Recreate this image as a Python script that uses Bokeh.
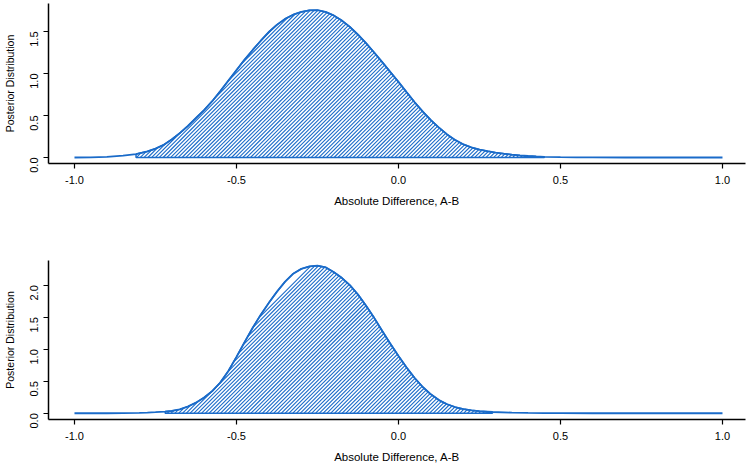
import numpy as np
from bokeh.plotting import figure
from bokeh.layouts import column
from bokeh.models import FixedTicker, NumeralTickFormatter, Range1d
from bokeh.embed import file_html
from bokeh.resources import INLINE

# ---- data ----
x_ticks = [-1.0, -0.5, 0.0, 0.5, 1.0]
y_ticks_top = [0.0, 0.5, 1.0, 1.5]
y_ticks_bottom = [0.0, 0.5, 1.0, 1.5, 2.0]

top_x = [-1.000, -0.950, -0.900, -0.850, -0.810, -0.800, -0.775, -0.750, -0.725, -0.700,
         -0.675, -0.650, -0.625, -0.600, -0.575, -0.550, -0.525, -0.500, -0.475, -0.450,
         -0.425, -0.400, -0.375, -0.350, -0.325, -0.300, -0.275, -0.250, -0.225, -0.200,
         -0.175, -0.150, -0.125, -0.100, -0.075, -0.050, -0.025, 0.000, 0.025, 0.050,
         0.075, 0.100, 0.125, 0.150, 0.175, 0.200, 0.225, 0.250, 0.275, 0.300,
         0.325, 0.350, 0.375, 0.400, 0.425, 0.450, 0.500, 0.550, 0.600, 0.700,
         0.800, 0.900, 1.000]
top_y = [0.000, 0.002, 0.008, 0.022, 0.040, 0.050, 0.072, 0.105, 0.150, 0.215,
         0.290, 0.375, 0.470, 0.565, 0.670, 0.790, 0.915, 1.040, 1.165, 1.280,
         1.390, 1.495, 1.580, 1.650, 1.700, 1.733, 1.752, 1.754, 1.733, 1.691,
         1.631, 1.555, 1.463, 1.361, 1.250, 1.135, 1.017, 0.900, 0.778, 0.658,
         0.547, 0.445, 0.355, 0.275, 0.208, 0.157, 0.120, 0.095, 0.075, 0.058,
         0.045, 0.034, 0.025, 0.018, 0.012, 0.008, 0.004, 0.002, 0.001, 0.000,
         0.000, 0.000, 0.000]
top_lo, top_hi = -0.810, 0.450

bot_x = [-1.000, -0.900, -0.850, -0.800, -0.775, -0.750, -0.720, -0.700, -0.675, -0.650,
         -0.625, -0.600, -0.575, -0.550, -0.525, -0.500, -0.475, -0.450, -0.425, -0.400,
         -0.375, -0.350, -0.325, -0.300, -0.275, -0.250, -0.225, -0.200, -0.175, -0.150,
         -0.125, -0.100, -0.075, -0.050, -0.025, 0.000, 0.025, 0.050, 0.075, 0.100,
         0.125, 0.150, 0.175, 0.200, 0.225, 0.250, 0.275, 0.290, 0.350, 0.400,
         0.450, 0.500, 0.600, 0.700, 0.800, 0.900, 1.000]
bot_y = [0.000, 0.000, 0.002, 0.006, 0.010, 0.016, 0.026, 0.035, 0.060, 0.105,
         0.165, 0.245, 0.345, 0.480, 0.660, 0.880, 1.110, 1.335, 1.540, 1.725,
         1.900, 2.055, 2.180, 2.255, 2.293, 2.305, 2.280, 2.205, 2.115, 2.000,
         1.855, 1.680, 1.490, 1.285, 1.085, 0.895, 0.715, 0.550, 0.410, 0.295,
         0.205, 0.140, 0.095, 0.065, 0.045, 0.032, 0.024, 0.019, 0.009, 0.004,
         0.002, 0.001, 0.000, 0.000, 0.000, 0.000, 0.000]
bot_lo, bot_hi = -0.720, 0.290

BLUE = "#1a6bc9"
FONT = "Liberation Sans"
X_RANGE = (-1.0802, 1.071)
FIG_W, BORDER_L, BORDER_R = 750, 48, 5
HATCH_PX = 3.8  # hatch spacing in screen pixels (horizontal)


def hatch_segments(xs, ys, lo, hi, frame_w, frame_h, y_range):
    """45-degree (screen) hatch lines clipped to the area under the curve on [lo, hi]."""
    px_per_x = frame_w / (X_RANGE[1] - X_RANGE[0])
    px_per_y = frame_h / (y_range[1] - y_range[0])
    k = px_per_x / px_per_y            # data-y per data-x for a 45deg screen line
    step = HATCH_PX / px_per_x
    fx = np.linspace(lo, hi, 4000)
    fy = np.interp(fx, xs, ys)
    x0s, y0s, x1s, y1s = [], [], [], []
    start = lo - fy[0] / k
    for x0 in np.arange(start, hi, step):
        line = k * (fx - x0)
        inside = (line >= 0) & (line <= fy)
        d = np.diff(inside.astype(int))
        starts = list(np.where(d == 1)[0] + 1)
        ends = list(np.where(d == -1)[0])
        if inside[0]:
            starts = [0] + starts
        if inside[-1]:
            ends = ends + [len(fx) - 1]
        for s, e in zip(starts, ends):
            if e > s:
                x0s.append(fx[s]); y0s.append(line[s])
                x1s.append(fx[e]); y1s.append(line[e])
    return x0s, y0s, x1s, y1s


def make_plot(xs, ys, lo, hi, yticks, y_range, height, top_border, bottom_border):
    p = figure(width=FIG_W, height=height, output_backend="svg", toolbar_location=None,
               x_range=Range1d(*X_RANGE), y_range=Range1d(*y_range),
               min_border_left=BORDER_L, min_border_right=BORDER_R,
               min_border_top=top_border, min_border_bottom=bottom_border)
    p.outline_line_color = None
    p.grid.visible = False
    p.background_fill_color = "white"
    p.border_fill_color = "white"

    frame_w = FIG_W - BORDER_L - BORDER_R
    frame_h = height - top_border - bottom_border
    hx0, hy0, hx1, hy1 = hatch_segments(xs, ys, lo, hi, frame_w, frame_h, y_range)
    p.segment(hx0, hy0, hx1, hy1, line_color=BLUE, line_width=1.1)

    px = [x for x in xs if lo <= x <= hi]
    py = [y for x, y in zip(xs, ys) if lo <= x <= hi]
    poly_x = px + [px[-1], px[0]]
    poly_y = py + [0.0, 0.0]
    p.patch(poly_x, poly_y, fill_color=None, line_color=BLUE, line_width=1.5)
    p.line(xs, ys, line_color=BLUE, line_width=1.8)

    p.xaxis.ticker = FixedTicker(ticks=x_ticks)
    p.yaxis.ticker = FixedTicker(ticks=yticks)
    p.xaxis.formatter = NumeralTickFormatter(format="0.0")
    p.yaxis.formatter = NumeralTickFormatter(format="0.0")
    p.yaxis.major_label_orientation = np.pi / 2
    for ax in (p.xaxis, p.yaxis):
        ax.axis_line_color = "black"
        ax.axis_line_width = 1.5
        ax.major_tick_line_color = "black"
        ax.major_tick_line_width = 1.2
        ax.major_tick_out = 5
        ax.major_tick_in = 0
        ax.minor_tick_line_color = None
        ax.major_label_text_font = FONT
        ax.major_label_text_font_size = "11px"
        ax.major_label_text_color = "black"
        ax.axis_label_text_font = FONT
        ax.axis_label_text_font_style = "normal"
        ax.axis_label_text_color = "black"
    p.xaxis.axis_label = "Absolute Difference, A-B"
    p.yaxis.axis_label = "Posterior Distribution"
    p.xaxis.axis_label_text_font_size = "11.5px"
    p.yaxis.axis_label_text_font_size = "10.5px"
    p.xaxis.major_label_standoff = 7
    p.xaxis.axis_label_standoff = 8
    p.yaxis.major_label_standoff = 9
    p.yaxis.axis_label_standoff = 8
    return p


p1 = make_plot(top_x, top_y, top_lo, top_hi, y_ticks_top, (-0.0714, 1.833),
               height=216, top_border=3, bottom_border=53)
p2 = make_plot(bot_x, bot_y, bot_lo, bot_hi, y_ticks_bottom, (-0.098, 2.386),
               height=250, top_border=44, bottom_border=47)

layout = column(p1, p2, spacing=0)
open("out.html", "w").write(file_html(layout, INLINE))
